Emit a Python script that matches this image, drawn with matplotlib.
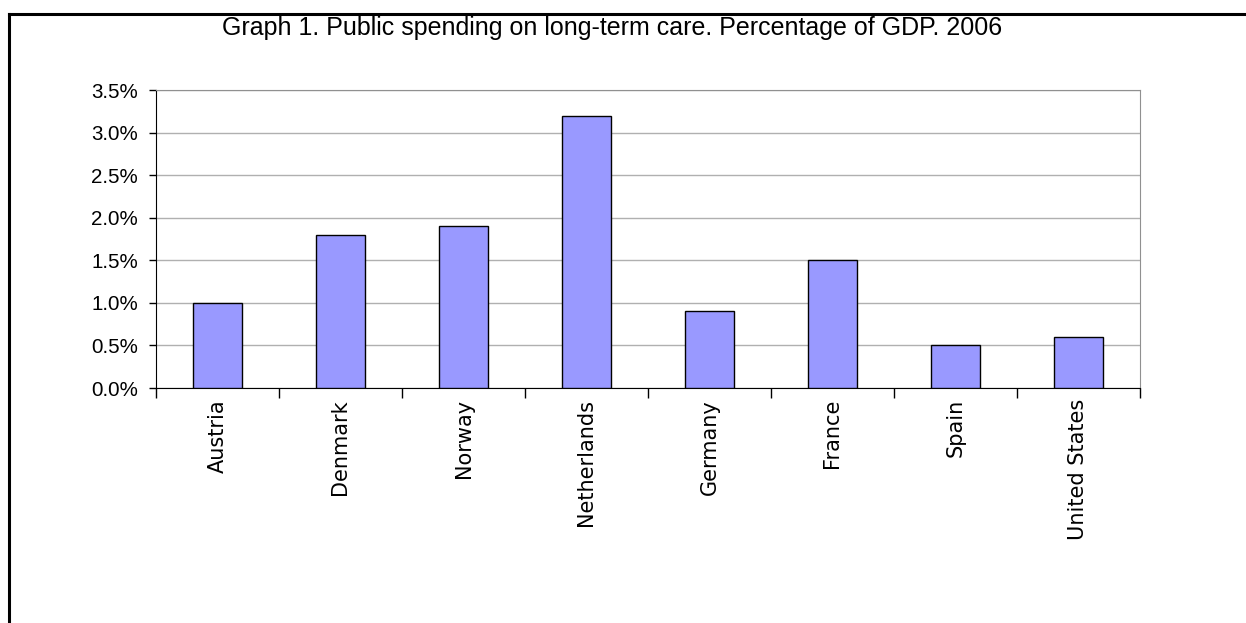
import matplotlib
matplotlib.use("Agg")
import matplotlib.pyplot as plt
from matplotlib.lines import Line2D
from matplotlib.ticker import FuncFormatter, MultipleLocator

countries = ["Austria", "Denmark", "Norway", "Netherlands", "Germany",
             "France", "Spain", "United States"]
spending = [1.0, 1.8, 1.9, 3.2, 0.9, 1.5, 0.5, 0.6]
title = "Graph 1. Public spending on long-term care. Percentage of GDP. 2006"

W, H = 1246, 623
fig = plt.figure(figsize=(W / 100, H / 100), dpi=100)

# plot area in pixels: left 156, right 1140, top 90, bottom 388
ax = fig.add_axes([156 / W, 1 - 388 / H, (1140 - 156) / W, (388 - 90) / H])

x = range(len(countries))
ax.bar(x, spending, width=0.4, color="#9999FF", edgecolor="black",
       linewidth=1.0, zorder=3)

ax.set_xlim(-0.5, len(countries) - 0.5)
ax.set_ylim(0, 3.5)
ax.yaxis.set_major_locator(MultipleLocator(0.5))
ax.yaxis.set_major_formatter(FuncFormatter(lambda v, p: f"{v:.1f}%"))
ax.grid(axis="y", color="#b0b0b0", linewidth=1.0, zorder=0)

# category labels at centers, ticks at boundaries
ax.set_xticks(list(x))
ax.set_xticklabels(countries, rotation=90, family="DejaVu Sans", fontsize=15)
ax.tick_params(axis="x", length=0, pad=8)
ax.set_xticks([i - 0.5 for i in range(len(countries) + 1)], minor=True)
ax.tick_params(axis="x", which="minor", length=7, color="black", width=1)

ax.tick_params(axis="y", length=5, width=1, color="black", pad=8)
for lab in ax.get_yticklabels():
    lab.set_family("Liberation Sans")
    lab.set_fontsize(14.8)

for side in ["top", "right"]:
    ax.spines[side].set_color("#909090")
ax.spines["left"].set_color("black")
ax.spines["bottom"].set_color("black")

fig.text(612 / W, 1 - 35.5 / H, title, ha="center", va="baseline",
         family="Liberation Sans", fontsize=18)

# outer frame (top and left edges visible)
fig.add_artist(Line2D([8.5 / W, 1.0], [1 - 13.5 / H, 1 - 13.5 / H],
                      color="black", linewidth=2.2, transform=fig.transFigure))
fig.add_artist(Line2D([8.5 / W, 8.5 / W], [0.0, 1 - 13.5 / H],
                      color="black", linewidth=2.2, transform=fig.transFigure))

fig.savefig("out.png", dpi=100)
